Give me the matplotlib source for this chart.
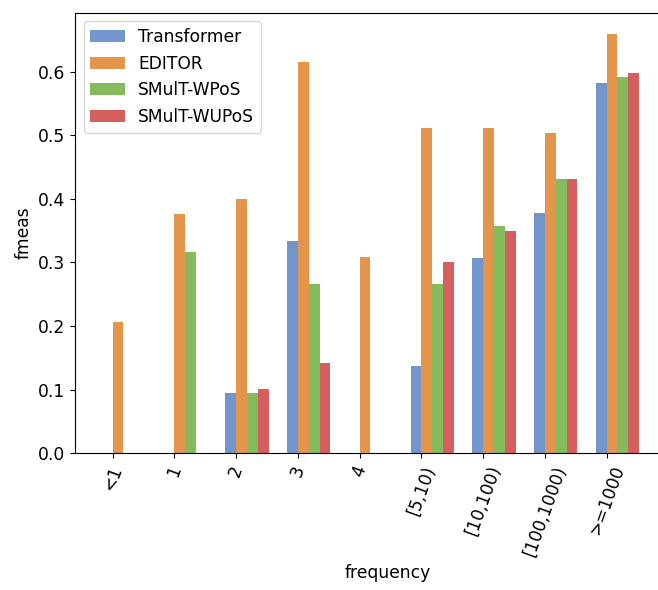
import matplotlib
matplotlib.use("Agg")
import matplotlib.pyplot as plt
import numpy as np

categories = ["<1", "1", "2", "3", "4", "[5,10)", "[10,100)", "[100,1000)", ">=1000"]
transformer = [0.0, 0.0, 0.095, 0.334, 0.0, 0.137, 0.307, 0.378, 0.582]
editor = [0.206, 0.376, 0.400, 0.616, 0.308, 0.512, 0.512, 0.504, 0.660]
smult_wpos = [0.0, 0.317, 0.095, 0.266, 0.0, 0.266, 0.358, 0.432, 0.592]
smult_wupos = [0.0, 0.0, 0.101, 0.142, 0.0, 0.300, 0.350, 0.432, 0.598]
series_names = ["Transformer", "EDITOR", "SMulT-WPoS", "SMulT-WUPoS"]
colors = ["#7295CC", "#E3954B", "#83BB5D", "#D55F5F"]

plt.rcParams['font.family'] = ['DejaVu Sans']
plt.rcParams['font.size'] = 12.3

fig = plt.figure(figsize=(6.58, 5.9), dpi=100)
left_px, unit_px = 75.0, 61.75
ax_w_frac = 0.95
ax = fig.add_axes([left_px / 658, 0.232, ax_w_frac, 0.7465])

x = np.arange(len(categories))
w = 0.175
for i, (name, vals) in enumerate(zip(series_names, [transformer, editor, smult_wpos, smult_wupos])):
    ax.bar(x + (i - 1) * w, vals, width=w, align='edge', color=colors[i], label=name)

x0 = -0.61
ax.set_xlim(x0, x0 + ax_w_frac * 658 / unit_px)
ax.set_xticks(x)
ax.set_xticklabels(categories, rotation=70)
ax.set_xlabel("frequency")
ax.set_ylabel("fmeas")
ax.legend(loc="upper left")

fig.savefig("out.png", dpi=100)
